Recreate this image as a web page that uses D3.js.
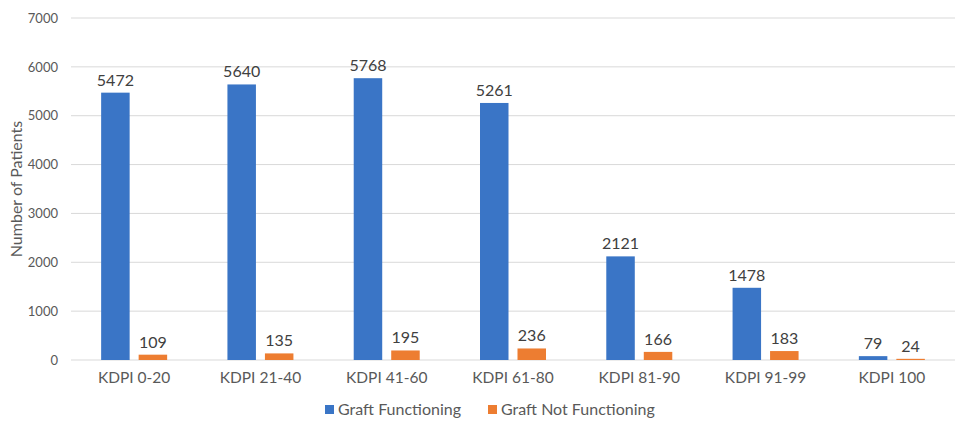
<!DOCTYPE html>
<html>
<head>
<meta charset="utf-8">
<script src="https://cdn.jsdelivr.net/npm/d3@7/dist/d3.min.js"></script>
<style>
  html, body { margin: 0; padding: 0; background: #ffffff; }
  svg { display: block; font-family: Lato, "Open Sans", sans-serif; }
</style>
</head>
<body>
<svg id="chart" width="958" height="423"></svg>
<script>
// KDPI groups and patient counts by graft status
const categories = ["KDPI 0-20", "KDPI 21-40", "KDPI 41-60", "KDPI 61-80", "KDPI 81-90", "KDPI 91-99", "KDPI 100"];
const graftFunctioning = [5472, 5640, 5768, 5261, 2121, 1478, 79];
const graftNotFunctioning = [109, 135, 195, 236, 166, 183, 24];
const seriesNames = ["Graft Functioning", "Graft Not Functioning"];
const seriesColors = ["#3a75c6", "#ed7d31"];
const yTicks = [0, 1000, 2000, 3000, 4000, 5000, 6000, 7000];

const svg = d3.select("#chart");
const margin = { top: 18, right: 3, bottom: 63, left: 71 };
const width = 958 - margin.left - margin.right;
const height = 423 - margin.top - margin.bottom;

const g = svg.append("g").attr("transform", `translate(${margin.left},${margin.top})`);

const x0 = d3.scaleBand().domain(categories).range([0, width]).paddingInner(0).paddingOuter(0);
const x1 = d3.scaleBand().domain(seriesNames).range([0, 66]).paddingInner(0.24);
const y = d3.scaleLinear().domain([0, 7000]).range([height, 0]);

// Horizontal gridlines
g.append("g")
  .selectAll("line")
  .data(yTicks)
  .join("line")
  .attr("x1", 0)
  .attr("x2", width)
  .attr("y1", d => y(d))
  .attr("y2", d => y(d))
  .attr("stroke", "#d9d9d9")
  .attr("stroke-width", 1);

// Y axis labels
const yAxis = d3.axisLeft(y).tickValues(yTicks).tickFormat(d3.format("d")).tickSize(0).tickPadding(13);
g.append("g")
  .call(yAxis)
  .call(s => s.select(".domain").remove())
  .selectAll("text")
  .attr("fill", "#595959")
  .style("font-size", "13px")
  .style("font-family", "Lato, 'Open Sans', sans-serif");

// X axis labels
const xAxis = d3.axisBottom(x0).tickSize(0).tickPadding(12);
g.append("g")
  .attr("transform", `translate(0,${height})`)
  .call(xAxis)
  .call(s => s.select(".domain").remove())
  .selectAll("text")
  .attr("fill", "#595959")
  .style("font-size", "15.5px")
  .style("font-family", "Lato, 'Open Sans', sans-serif");

// Bars
const rows = categories.map((c, i) => ({
  category: c,
  values: [
    { series: seriesNames[0], value: graftFunctioning[i], color: seriesColors[0] },
    { series: seriesNames[1], value: graftNotFunctioning[i], color: seriesColors[1] }
  ]
}));

const groups = g.selectAll(".group")
  .data(rows)
  .join("g")
  .attr("class", "group")
  .attr("transform", d => `translate(${x0(d.category) + (x0.bandwidth() - 66) / 2},0)`);

groups.selectAll("rect")
  .data(d => d.values)
  .join("rect")
  .attr("x", d => x1(d.series))
  .attr("width", x1.bandwidth())
  .attr("y", d => y(d.value))
  .attr("height", d => height - y(d.value))
  .attr("fill", d => d.color);

groups.selectAll("text.val")
  .data(d => d.values)
  .join("text")
  .attr("class", "val")
  .attr("x", d => x1(d.series) + x1.bandwidth() / 2)
  .attr("y", d => y(d.value) - 7)
  .attr("text-anchor", "middle")
  .attr("fill", "#404040")
  .style("font-size", "16px")
  .text(d => d.value);

// Y axis title
svg.append("text")
  .attr("transform", `translate(22,${margin.top + height / 2}) rotate(-90)`)
  .attr("text-anchor", "middle")
  .attr("fill", "#595959")
  .style("font-size", "16px")
  .text("Number of Patients");

// Legend
const legend = svg.append("g").attr("transform", "translate(325,404)");
const legendItems = legend.selectAll("g")
  .data(seriesNames)
  .join("g")
  .attr("transform", (d, i) => `translate(${i === 0 ? 0 : 163},0)`);
legendItems.append("rect")
  .attr("width", 9)
  .attr("height", 9)
  .attr("y", 1)
  .attr("fill", (d, i) => seriesColors[i]);
legendItems.append("text")
  .attr("x", 13)
  .attr("y", 10.5)
  .attr("fill", "#595959")
  .style("font-size", "16px")
  .text(d => d);
</script>
</body>
</html>
